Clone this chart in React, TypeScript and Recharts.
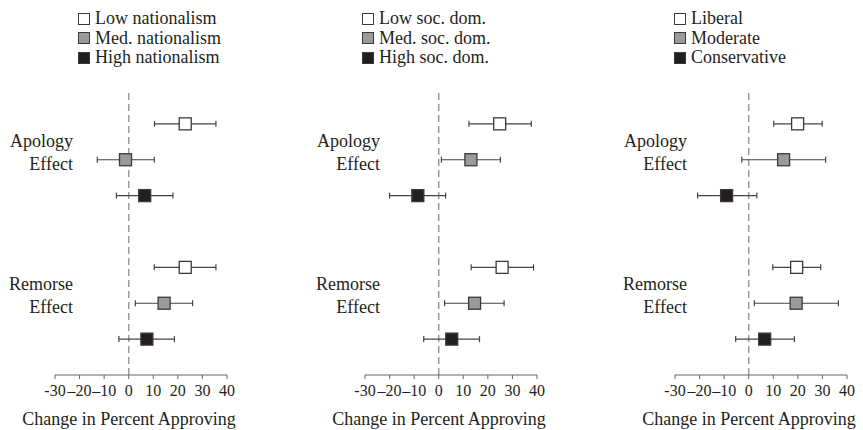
import React from 'react';
import { ScatterChart, Scatter, XAxis, YAxis, ErrorBar, ReferenceLine, Legend, Label } from 'recharts';

// shared axis / row setup
const xTicks = [-30, -20, -10, 0, 10, 20, 30, 40];
const effectNames = ['Apology Effect', 'Remorse Effect'];
const effectRows = [1, 5];
const apologyRows = [0, 1, 2];
const remorseRows = [4, 5, 6];
const levelFills = ['#ffffff', '#9a9a9a', '#231f20'];

// panel 1: nationalism
const natLabels = ['Low nationalism', 'Med. nationalism', 'High nationalism'];
const natApology = [23, -1.3, 6.5];
const natApologyCI = [[10.5, 35.5], [-12.8, 10.4], [-5, 18]];
const natRemorse = [23, 14.4, 7.4];
const natRemorseCI = [[10.4, 35.5], [2.7, 26], [-4, 18.6]];

// panel 2: social dominance
const sdoLabels = ['Low soc. dom.', 'Med. soc. dom.', 'High soc. dom.'];
const sdoApology = [24.8, 13.1, -8.5];
const sdoApologyCI = [[12.3, 37.7], [1.1, 25.1], [-20, 2.8]];
const sdoRemorse = [25.8, 14.6, 5.3];
const sdoRemorseCI = [[13.2, 38.6], [2.4, 26.6], [-6.1, 16.6]];

// panel 3: ideology
const ideoLabels = ['Liberal', 'Moderate', 'Conservative'];
const ideoApology = [19.9, 14.2, -9.0];
const ideoApologyCI = [[10.2, 29.9], [-2.8, 31.3], [-20.8, 3.3]];
const ideoRemorse = [19.5, 19.3, 6.5];
const ideoRemorseCI = [[9.8, 29.3], [2.3, 36.5], [-5.3, 18.6]];

const ink = '#231f20';

const fmtTick = (v: number) => (v === -30 ? '-30' : v < 0 ? `\u2013${-v}` : `${v}`);

const Square = (props: any) => {
  const { cx, cy, fill } = props;
  return <rect x={cx - 6} y={cy - 6} width={12} height={12} fill={fill} stroke="#3a3a3a" strokeWidth={1.3} />;
};

const EffectTick = ({ x, y, payload, dx }: any) => {
  const idx = effectRows.indexOf(payload.value);
  const [a, b] = (effectNames[idx] || '').split(' ');
  return (
    <text textAnchor="end" fontSize={18} fill={ink}>
      <tspan x={x + dx} y={y - 13}>{a}</tspan>
      <tspan x={x + dx} y={y + 10}>{b}</tspan>
    </text>
  );
};

function Panel({ labels, apology, apologyCI, remorse, remorseCI, left, width, yWidth, legendLeft, labelDx }: any) {
  const series = labels.map((name: string, i: number) => [
    { x: apology[i], y: apologyRows[i], err: [apology[i] - apologyCI[i][0], apologyCI[i][1] - apology[i]] },
    { x: remorse[i], y: remorseRows[i], err: [remorse[i] - remorseCI[i][0], remorseCI[i][1] - remorse[i]] },
  ]);
  const right = width - yWidth - 172;
  return (
    <div style={{ position: 'absolute', left, top: 0 }}>
      <ScatterChart width={width} height={430} margin={{ top: 93, right, bottom: 0, left: 0 }}>
        <XAxis
          type="number"
          dataKey="x"
          domain={[-30, 40]}
          ticks={xTicks}
          interval={0}
          height={55}
          tickSize={4}
          tickMargin={6}
          stroke="#666"
          tick={{ fill: ink, fontSize: 16 }}
          tickFormatter={fmtTick}
        >
          <Label value="Change in Percent Approving" position="insideBottom" offset={5} dx={-12} fill={ink} fontSize={18} />
        </XAxis>
        <YAxis
          type="number"
          dataKey="y"
          domain={[-0.86, 7]}
          reversed
          ticks={effectRows}
          width={yWidth}
          axisLine={false}
          tickLine={false}
          tickSize={0}
          tickMargin={0}
          tick={<EffectTick dx={labelDx} />}
        />
        <ReferenceLine x={0} stroke="#9a9a9a" strokeWidth={1.5} strokeDasharray="7 4" />
        {series.map((data: any[], i: number) => (
          <Scatter key={labels[i]} name={labels[i]} data={data} fill={levelFills[i]} shape={Square} isAnimationActive={false}>
            <ErrorBar dataKey="err" direction="x" width={3} stroke="#444" strokeWidth={1.2} />
          </Scatter>
        ))}
        <Legend
          layout="vertical"
          align="center"
          verticalAlign="middle"
          wrapperStyle={{ left: legendLeft, top: 9, width: 200 }}
          content={() => (
            <div style={{ fontSize: 18, color: ink }}>
              {labels.map((l: string, i: number) => (
                <div key={l} style={{ display: 'flex', alignItems: 'center', height: 19.5 }}>
                  <span
                    style={{
                      display: 'inline-block',
                      width: 10,
                      height: 10,
                      border: '1.3px solid #3a3a3a',
                      background: levelFills[i],
                      marginRight: 5,
                    }}
                  />
                  <span style={{ lineHeight: '19.5px' }}>{l}</span>
                </div>
              ))}
            </div>
          )}
        />
      </ScatterChart>
    </div>
  );
}

export default function App() {
  return (
    <div
      style={{
        position: 'absolute',
        left: 0,
        top: 0,
        width: 863,
        height: 430,
        background: '#fff',
        fontFamily: '"Liberation Serif", serif',
      }}
    >
      <Panel labels={natLabels} apology={natApology} apologyCI={natApologyCI} remorse={natRemorse} remorseCI={natRemorseCI}
        left={0} width={290} yWidth={55} legendLeft={78} labelDx={18} />
      <Panel labels={sdoLabels} apology={sdoApology} apologyCI={sdoApologyCI} remorse={sdoRemorse} remorseCI={sdoRemorseCI}
        left={290} width={290} yWidth={75} legendLeft={72} labelDx={15} />
      <Panel labels={ideoLabels} apology={ideoApology} apologyCI={ideoApologyCI} remorse={ideoRemorse} remorseCI={ideoRemorseCI}
        left={580} width={283} yWidth={95} legendLeft={94} labelDx={12} />
    </div>
  );
}
